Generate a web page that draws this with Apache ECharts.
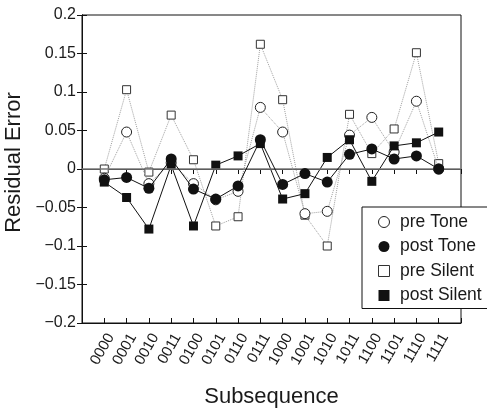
<!DOCTYPE html>
<html>
<head>
<meta charset="utf-8">
<script src="https://cdn.jsdelivr.net/npm/echarts@6/dist/echarts.min.js"></script>
<style>
html,body{margin:0;padding:0;background:#fff;}
#chart{width:487px;height:411px;}
</style>
</head>
<body>
<div id="chart"></div>
<script>
var categories = ['0000','0001','0010','0011','0100','0101','0110','0111','1000','1001','1010','1011','1100','1101','1110','1111'];
var preTone    = [-0.012, 0.048, -0.019, 0.008, -0.019, -0.040, -0.029, 0.080, 0.048, -0.058, -0.055, 0.044, 0.067, 0.022, 0.088, 0.000];
var postTone   = [-0.014, -0.011, -0.025, 0.013, -0.026, -0.039, -0.022, 0.038, -0.020, -0.006, -0.017, 0.019, 0.026, 0.013, 0.017, 0.000];
var preSilent  = [0.000, 0.103, -0.004, 0.070, 0.012, -0.074, -0.062, 0.162, 0.090, -0.060, -0.100, 0.071, 0.020, 0.052, 0.151, 0.007];
var postSilent = [-0.017, -0.037, -0.078, 0.005, -0.074, 0.005, 0.017, 0.033, -0.039, -0.032, 0.015, 0.038, -0.016, 0.030, 0.034, 0.048];
var yTicks = [-0.2, -0.15, -0.1, -0.05, 0, 0.05, 0.1, 0.15, 0.2];

function pts(arr){ return arr.map(function(v,i){ return [i+1, v]; }); }
function fmtY(v){
  var r = Math.round(v*100)/100;
  if (r === 0) return '0';
  return (r < 0 ? '\u2212' : '') + String(Math.abs(r));
}
var FONT = '"Liberation Sans", Arial, Helvetica, sans-serif';
var TXT = '#1a1a1a';
var SQ = 'path://M0 0H10V10H0Z';

var chart = echarts.init(document.getElementById('chart'), null, {renderer:'canvas'});
var option = {
  animation: false,
  backgroundColor: '#fff',
  textStyle: {fontFamily: FONT},
  grid: {left: 82, right: 26, top: 15, bottom: 88, containLabel: false, outerBoundsMode: 'none',
    show: true, borderColor: '#111', borderWidth: 1, backgroundColor: 'transparent'},
  xAxis: [{
    type: 'value', min: 0, max: 17, interval: 1, position: 'bottom',
    name: 'Subsequence', nameLocation: 'middle', nameGap: 63,
    nameTextStyle: {fontSize: 22, color: TXT, fontFamily: FONT},
    axisLine: {show: true, onZero: false, lineStyle: {color: '#111', width: 1}},
    axisTick: {show: true, inside: true, length: 5, lineStyle: {color: '#111'}},
    splitLine: {show: false},
    axisLabel: {rotate: 60, margin: 8, fontSize: 15, color: TXT, fontFamily: FONT, hideOverlap: false,
      verticalAlign: 'top',
      formatter: function(v){ return (v >= 1 && v <= categories.length) ? categories[v-1] : ''; }}
  },{
    type: 'value', min: 0, max: 17, interval: 1, position: 'top',
    axisLine: {show: true, lineStyle: {color: '#111', width: 1}},
    axisTick: {show: true, inside: true, length: 5, lineStyle: {color: '#111'}},
    axisLabel: {show: false}, splitLine: {show: false}
  }],
  yAxis: [{
    type: 'value', min: -0.2, max: 0.2, interval: 0.05, position: 'left',
    name: 'Residual Error', nameLocation: 'middle', nameGap: 50, nameRotate: 90,
    nameTextStyle: {fontSize: 22, color: TXT, fontFamily: FONT, padding: [0, 0, 0, 13]},
    axisLine: {show: true, onZero: false, lineStyle: {color: '#111', width: 1}},
    axisTick: {show: true, inside: true, length: 5, lineStyle: {color: '#111'}},
    splitLine: {show: false},
    axisLabel: {margin: 6, fontSize: 16, color: TXT, fontFamily: FONT, formatter: fmtY}
  },{
    type: 'value', min: -0.2, max: 0.2, interval: 0.05, position: 'right',
    axisLine: {show: true, lineStyle: {color: '#111', width: 1}},
    axisTick: {show: true, inside: true, length: 5, lineStyle: {color: '#111'}},
    axisLabel: {show: false}, splitLine: {show: false}
  }],
  legend: {
    orient: 'vertical', left: 362, top: 207,
    padding: [6, 7, 4, 16], itemGap: 6.5, itemWidth: 22, itemHeight: 11,
    backgroundColor: '#fff', borderColor: '#111', borderWidth: 1, borderRadius: 0,
    textStyle: {fontSize: 17.5, color: TXT, fontFamily: FONT},
    data: [
      {name: 'pre Tone', icon: 'circle', itemStyle: {color: '#fff', borderColor: '#222', borderWidth: 1}},
      {name: 'post Tone', icon: 'circle', itemStyle: {color: '#111', borderWidth: 0}},
      {name: 'pre Silent', icon: SQ, itemStyle: {color: '#fff', borderColor: '#333', borderWidth: 1}},
      {name: 'post Silent', icon: SQ, itemStyle: {color: '#111', borderWidth: 0}}
    ]
  },
  series: [
    {
      name: 'pre Silent', type: 'line', data: pts(preSilent), z: 2,
      symbol: 'rect', symbolSize: 8,
      itemStyle: {color: '#fff', borderColor: '#333', borderWidth: 1},
      lineStyle: {color: '#a0a0a0', type: 'dotted', width: 1},
      markLine: {silent: true, symbol: 'none', label: {show: false},
        lineStyle: {color: '#777', type: 'solid', width: 1.5},
        data: [{yAxis: 0}]}
    },
    {
      name: 'pre Tone', type: 'line', data: pts(preTone), z: 3,
      symbol: 'circle', symbolSize: 10,
      itemStyle: {color: '#fff', borderColor: '#222', borderWidth: 1},
      lineStyle: {color: '#a0a0a0', type: 'dotted', width: 1}
    },
    {
      name: 'post Silent', type: 'line', data: pts(postSilent), z: 4,
      symbol: 'rect', symbolSize: 9,
      itemStyle: {color: '#111'},
      lineStyle: {color: '#111', type: 'solid', width: 1}
    },
    {
      name: 'post Tone', type: 'line', data: pts(postTone), z: 5,
      symbol: 'circle', symbolSize: 11,
      itemStyle: {color: '#111'},
      lineStyle: {color: '#111', type: 'solid', width: 1}
    }
  ]
};
chart.setOption(option);
</script>
</body>
</html>
